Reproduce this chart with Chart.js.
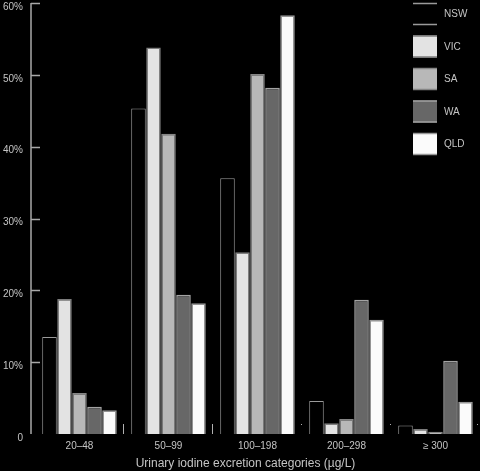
<!DOCTYPE html>
<html>
<head>
<meta charset="utf-8">
<script src="https://cdn.jsdelivr.net/npm/chart.js@4/dist/chart.umd.min.js"></script>
<style>
  html, body { margin: 0; padding: 0; background: #000; }
  #wrap { width: 480px; height: 471px; }
</style>
</head>
<body>
<div id="wrap"><canvas id="c" width="480" height="471"></canvas></div>
<script>
const categories = ['20–48', '50–99', '100–198', '200–298', '≥ 300'];
const seriesNames = ['NSW', 'VIC', 'SA', 'WA', 'QLD'];
const nswValues = [13.5, 45.3, 35.6, 4.6, 1.2];
const vicValues = [18.8, 53.8, 25.3, 1.5, 0.7];
const saValues  = [5.7, 41.8, 50.1, 2.1, 0.3];
const waValues  = [3.8, 19.4, 48.2, 18.7, 10.2];
const qldValues = [3.3, 18.2, 58.3, 15.9, 4.5];
const yTicks = [0, 10, 20, 30, 40, 50, 60];
const xTitle = 'Urinary iodine excretion categories (µg/L)';

const fills   = ['#000000', '#e3e3e3', '#b8b8b8', '#676767', '#fbfbfb'];
const borders = ['#9a9a9a', '#7c7c7c', '#858585', '#a3a3a3', '#979797'];
const TEXT = '#c4c4c4';
const FONT = '"Liberation Sans", Arial, Helvetica, sans-serif';

const allValues = [nswValues, vicValues, saValues, waValues, qldValues];
const datasets = seriesNames.map((name, i) => ({
  label: name,
  data: allValues[i],
  backgroundColor: fills[i],
  borderColor: borders[i],
  borderWidth: i === 0 ? 1 : 1.5,
  categoryPercentage: 0.843,
  barPercentage: 0.97
}));

const decorPlugin = {
  id: 'decor',
  afterDraw(chart) {
    const ctx = chart.ctx;
    const y = chart.scales.y, x = chart.scales.x;
    const area = chart.chartArea;
    const axisX = area.left - 4;
    ctx.save();
    // y axis line
    ctx.strokeStyle = '#a8a8a8';
    ctx.lineWidth = 1.5;
    ctx.beginPath();
    ctx.moveTo(axisX, y.getPixelForValue(60));
    ctx.lineTo(axisX, y.getPixelForValue(0));
    ctx.stroke();
    // inward ticks
    yTicks.forEach(v => {
      if (v === 0) return;
      const py = Math.round(y.getPixelForValue(v)) + 0.5;
      ctx.beginPath();
      ctx.moveTo(axisX, py);
      ctx.lineTo(axisX + 9, py);
      ctx.stroke();
    });
    // small category boundary marks
    ctx.lineWidth = 1;
    ctx.strokeStyle = '#b0b0b0';
    const base = y.getPixelForValue(0);
    for (let i = 1; i <= categories.length; i++) {
      const bx = i < categories.length
        ? Math.round((x.getPixelForTick(i - 1) + x.getPixelForTick(i)) / 2) - 0.5
        : area.right - 2.5;
      ctx.beginPath();
      if (i <= 2) {
        ctx.moveTo(bx, base - 10);
        ctx.lineTo(bx, base);
      } else {
        ctx.moveTo(bx, base - 10);
        ctx.lineTo(bx, base - 9);
      }
      ctx.stroke();
    }
    // x axis title
    ctx.font = '12px ' + FONT;
    ctx.fillStyle = TEXT;
    ctx.textAlign = 'center';
    ctx.textBaseline = 'middle';
    ctx.fillText(xTitle, (area.left + area.right) / 2 - 12, x.bottom - 7);
    // legend
    const lx = 413, bw = 24, bh = 22, gap = 32.5, top0 = 3;
    ctx.font = '10px ' + FONT;
    ctx.textBaseline = 'middle';
    ctx.textAlign = 'left';
    chart.data.datasets.forEach((ds, i) => {
      const ty = top0 + i * gap;
      ctx.fillStyle = ds.backgroundColor;
      ctx.fillRect(lx, ty, bw, bh);
      ctx.strokeStyle = ds.borderColor;
      ctx.lineWidth = 1.5;
      ctx.beginPath();
      ctx.moveTo(lx, ty + 0.5);
      ctx.lineTo(lx + bw, ty + 0.5);
      ctx.moveTo(lx, ty + bh - 0.5);
      ctx.lineTo(lx + bw, ty + bh - 0.5);
      ctx.stroke();
      ctx.fillStyle = TEXT;
      ctx.fillText(ds.label, lx + 31, ty + bh / 2 + 0.5);
    });
    ctx.restore();
  }
};

new Chart(document.getElementById('c'), {
  type: 'bar',
  data: { labels: categories, datasets },
  options: {
    responsive: false,
    animation: false,
    devicePixelRatio: 1,
    layout: { padding: { top: 3, right: 0, left: 0, bottom: 0 } },
    plugins: { legend: { display: false }, tooltip: { enabled: false } },
    scales: {
      x: {
        grid: { display: false, drawTicks: false },
        border: { display: false },
        ticks: { color: TEXT, padding: 6, font: { family: FONT, size: 10 }, maxRotation: 0 },
        title: { display: false },
        afterFit(s) { s.height = 37; s.paddingLeft = 0; s.paddingRight = 0; }
      },
      y: {
        min: 0, max: 60,
        grid: { display: false, drawTicks: false },
        border: { display: false },
        ticks: {
          stepSize: 10, color: TEXT, padding: 12, labelOffset: 4,
          font: { family: FONT, size: 10 },
          callback: v => (v === 0 ? '0' : v + '%')
        },
        afterFit(s) { s.width = 35; s.paddingTop = 0; s.paddingBottom = 0; }
      }
    }
  },
  plugins: [decorPlugin]
});
</script>
</body>
</html>
